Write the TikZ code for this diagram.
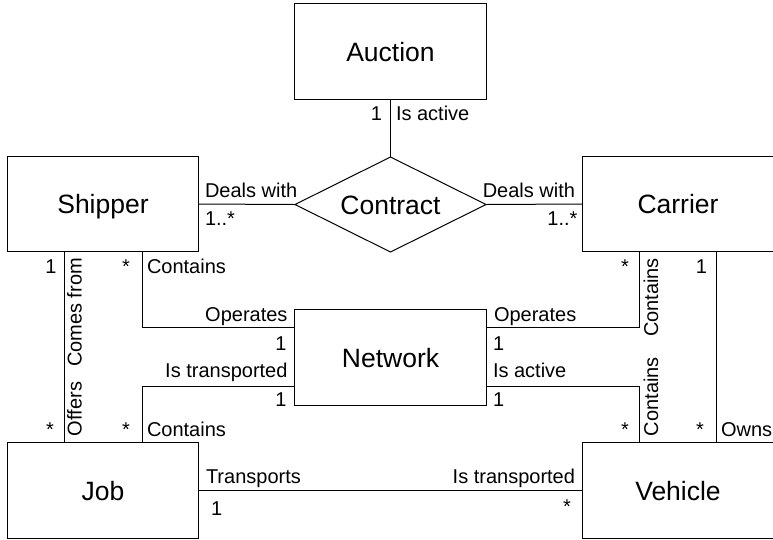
\documentclass[tikz,border=0pt]{standalone}
\usepackage{fontspec}
\setmainfont{Liberation Sans}
\usetikzlibrary{shapes.geometric}
\begin{document}
\begin{tikzpicture}[x=1pt,y=-1pt,
  entity/.style={draw, line width=1pt, minimum width=191.5pt, minimum height=95.5pt,
    inner sep=0pt, outer sep=0pt, text height=19pt, text depth=0pt,
    font=\fontsize{26.5}{30}\selectfont},
  relation/.style={draw, diamond, aspect=2, line width=1pt, minimum width=191pt,
    minimum height=95pt, inner sep=0pt, outer sep=0pt, text height=19pt, text depth=0pt,
    font=\fontsize{26.5}{30}\selectfont},
  lbl/.style={font=\fontsize{20}{24}\selectfont, inner sep=0pt, outer sep=0pt},
  conn/.style={line width=1pt}]
\useasboundingbox (0,0) rectangle (773,539);
\begin{scope}
\clip (0,0) rectangle (773,539);

% entities and the relationship
\node[entity] (auction) at (390.5,51.5) {Auction};
\node[relation] (contract) at (390.5,204.5) {Contract};
\node[entity] (shipper) at (103,204) {Shipper};
\node[entity] (carrier) at (678,204) {Carrier};
\node[entity] (network) at (390.5,357.5) {Network};
\node[entity] (job) at (103,490.5) {Job};
\node[entity] (vehicle) at (678,490.5) {Vehicle};

% connectors
\draw[conn] (auction.south) -- (contract.north);
\draw[conn] (shipper.east) -- (contract.west);
\draw[conn] (contract.east) -- (carrier.west);
\draw[conn] ([xshift=57pt]shipper.south west) -- ([xshift=57pt]job.north west);
\draw[conn] ([xshift=135pt]shipper.south west) |- ([yshift=-18pt]network.north west);
\draw[conn] ([xshift=135pt]job.north west) |- ([yshift=19pt]network.south west);
\draw[conn] ([xshift=57pt]carrier.south west) |- ([yshift=-18pt]network.north east);
\draw[conn] ([xshift=57pt]vehicle.north west) |- ([yshift=19pt]network.south east);
\draw[conn] ([xshift=134pt]carrier.south west) -- ([xshift=134pt]vehicle.north west);
\draw[conn] (job.east) -- (vehicle.west);

% Auction - Contract
\node[lbl, anchor=base east] (ac1) at (382,120) {1};
\node[lbl, anchor=base west] (acr) at (396,120) {Is active};

% Shipper / Carrier - Contract
\node[lbl, anchor=base west] (scr) at (205,197) {Deals with};
\node[lbl, anchor=base west] (scm) at (205,225) {1..*};
\node[lbl, anchor=base east] (ccr) at (575,197) {Deals with};
\node[lbl, anchor=base east] (ccm) at (577.5,225) {1..*};

% Shipper - Job
\node[lbl, anchor=base east] (sj1) at (56.5,273) {1};
\node[lbl, rotate=90, anchor=base east] (sjr) at (81.5,258) {Comes from};
\node[lbl, anchor=base east] (sj2) at (54,436) {*};
\node[lbl, rotate=90, anchor=base west] (jsr) at (81.5,436) {Offers};

% Shipper - Network
\node[lbl, anchor=base east] (sn1) at (130,273) {*};
\node[lbl, anchor=base west] (snr) at (147,273) {Contains};
\node[lbl, anchor=base east] (nsr) at (287.5,321) {Operates};
\node[lbl, anchor=base east] (ns1) at (286.5,350) {1};

% Job - Network
\node[lbl, anchor=base east] (njr) at (287.5,377) {Is transported};
\node[lbl, anchor=base east] (nj1) at (286.5,406) {1};
\node[lbl, anchor=base east] (jn1) at (130,436) {*};
\node[lbl, anchor=base west] (jnr) at (147,436) {Contains};

% Carrier - Network
\node[lbl, anchor=base west] (ncr) at (494,321) {Operates};
\node[lbl, anchor=base west] (nc1) at (493,350) {1};
\node[lbl, anchor=base east] (cn1) at (629,273) {*};
\node[lbl, rotate=90, anchor=base east] (cnr) at (658,258) {Contains};

% Vehicle - Network
\node[lbl, anchor=base west] (nvr) at (493,377) {Is active};
\node[lbl, anchor=base west] (nv1) at (493,406) {1};
\node[lbl, anchor=base east] (vn1) at (629,436) {*};
\node[lbl, rotate=90, anchor=base west] (vnr) at (658,436) {Contains};

% Carrier - Vehicle
\node[lbl, anchor=base east] (cv1) at (707,273) {1};
\node[lbl, anchor=base east] (vc1) at (704,436) {*};
\node[lbl, anchor=base west] (vcr) at (721,436) {Owns};

% Job - Vehicle
\node[lbl, anchor=base west] (jvr) at (206,483) {Transports};
\node[lbl, anchor=base west] (jv1) at (211,515) {1};
\node[lbl, anchor=base east] (vjr) at (575,483) {Is transported};
\node[lbl, anchor=base east] (vj1) at (571,513) {*};
\end{scope}
\end{tikzpicture}
\end{document}
